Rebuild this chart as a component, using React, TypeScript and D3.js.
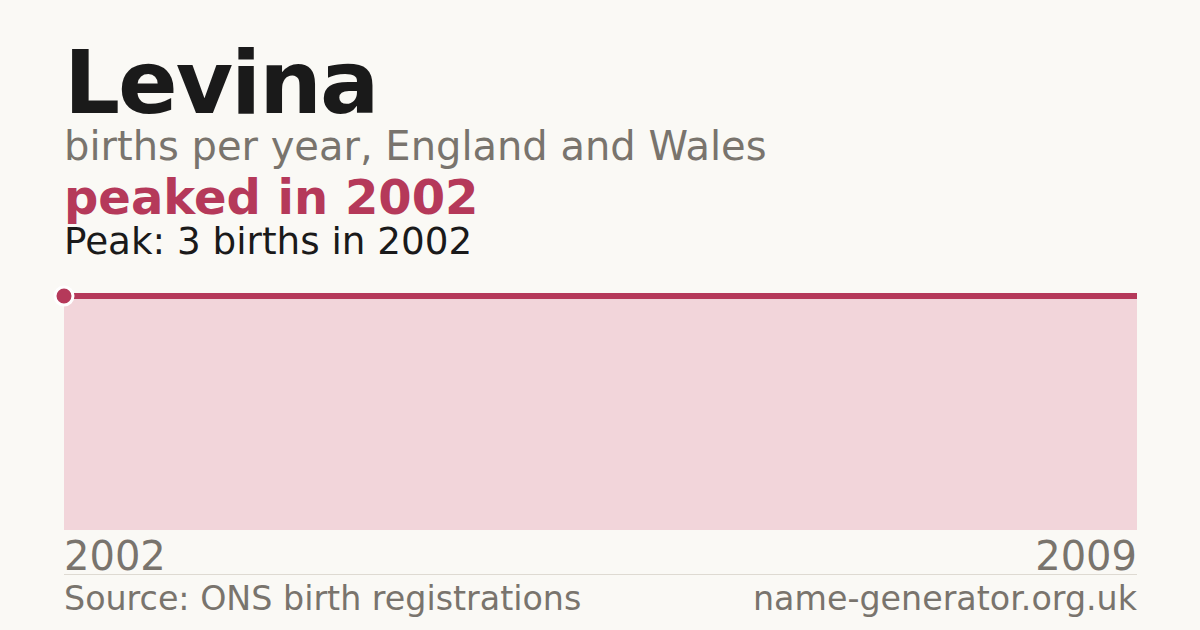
import React from 'react';
import * as d3 from 'd3';

const years = [2002, 2003, 2004, 2005, 2006, 2007, 2008, 2009];
const births = [3, 3, 3, 3, 3, 3, 3, 3];
const axisLabels = ['2002', '2009'];

const colors = {
  background: '#faf9f5',
  title: '#1a1a1a',
  muted: '#79746d',
  accent: '#b5395a',
  area: '#f2d5da',
  rule: '#dedad2',
};

const font = '"DejaVu Sans", Verdana, sans-serif';

const App: React.FC = () => {
  const width = 1200;
  const height = 630;
  const left = 64;
  const right = 1137;

  const x = d3.scaleLinear().domain([years[0], years[years.length - 1]]).range([left, right]);
  const y = d3.scaleLinear().domain([0, d3.max(births) as number]).range([530, 296]);

  const points = years.map((yr, i) => ({ yr, v: births[i] }));
  const area = d3.area<{ yr: number; v: number }>()
    .x(d => x(d.yr))
    .y0(y(0))
    .y1(d => y(d.v));
  const line = d3.line<{ yr: number; v: number }>()
    .x(d => x(d.yr))
    .y(d => y(d.v));

  const peakIdx = births.indexOf(d3.max(births) as number);
  const peakYear = years[peakIdx];
  const peakVal = births[peakIdx];

  return (
    <div style={{ position: 'fixed', left: 0, top: 0, width, height, background: colors.background }}>
      <svg width={width} height={height} style={{ display: 'block', fontFamily: font }}>
        <rect width={width} height={height} fill={colors.background} />

        {/* Header */}
        <text x={left} y={113} fontSize={88} fontWeight={700} fill={colors.title} letterSpacing={-2}>Levina</text>
        <text x={left} y={160} fontSize={40} fill={colors.muted}>births per year, England and Wales</text>
        <text x={left} y={214} fontSize={48} fontWeight={700} fill={colors.accent}>peaked in {peakYear}</text>
        <text x={left} y={254} fontSize={37.3} fill={colors.title}>Peak: {peakVal} births in {peakYear}</text>

        {/* Chart */}
        <path d={area(points) ?? ''} fill={colors.area} />
        <path d={line(points) ?? ''} fill="none" stroke={colors.accent} strokeWidth={6} />
        <circle cx={x(peakYear)} cy={y(peakVal)} r={9} fill={colors.accent} stroke="#ffffff" strokeWidth={3} />

        {/* X labels */}
        <text x={x(+axisLabels[0])} y={570} fontSize={40} fill={colors.muted}>{axisLabels[0]}</text>
        <text x={x(+axisLabels[1])} y={570} fontSize={40} fill={colors.muted} textAnchor="end">{axisLabels[1]}</text>

        <line x1={left} x2={right} y1={574.5} y2={574.5} stroke={colors.rule} strokeWidth={1} />

        {/* Footer */}
        <text x={left} y={610} fontSize={33.3} fill={colors.muted}>Source: ONS birth registrations</text>
        <text x={right} y={610} fontSize={33.3} fill={colors.muted} textAnchor="end">name-generator.org.uk</text>
      </svg>
    </div>
  );
};

export default App;
